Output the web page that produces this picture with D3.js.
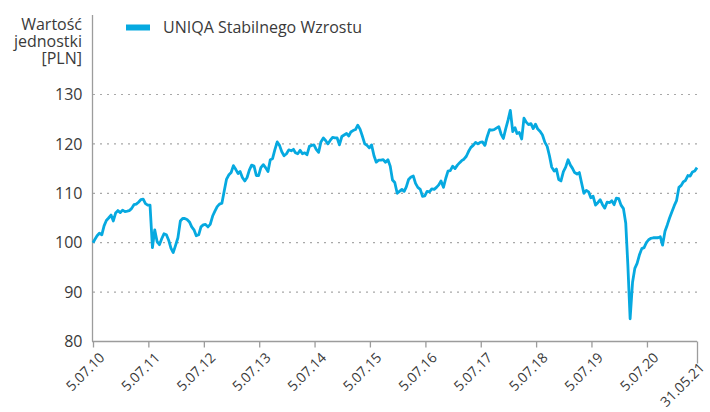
<!DOCTYPE html>
<html>
<head>
<meta charset="utf-8">
<script src="https://cdn.jsdelivr.net/npm/d3@7"></script>
<style>
  body { margin: 0; background: #fff; }
  text { font-family: "Open Sans", sans-serif; fill: #3a3a3a; }
</style>
</head>
<body>
<svg id="chart" width="710" height="412"></svg>
<script>
var seriesName = "UNIQA Stabilnego Wzrostu";
var axisTitle = ["Wartość", "jednostki", "[PLN]"];
var yTicks = [80, 90, 100, 110, 120, 130];
var xTickDates = ["2010-07-05", "2011-07-05", "2012-07-05", "2013-07-05", "2014-07-05", "2015-07-05",
                  "2016-07-05", "2017-07-05", "2018-07-05", "2019-07-05", "2020-07-05", "2021-05-31"];
var xTickLabels = ["5.07.10", "5.07.11", "5.07.12", "5.07.13", "5.07.14", "5.07.15",
                   "5.07.16", "5.07.17", "5.07.18", "5.07.19", "5.07.20", "31.05.21"];

// unit value, sampled on the 1st and 16th of every month
var v2010 = [100.0, 100.6, 101.4, 101.9, 101.6, 103.4, 104.5, 105.0, 105.6, 104.4, 106.0, 106.5];
var v2011 = [106.1, 106.6, 106.3, 106.4, 106.5, 106.9, 107.7, 107.8, 108.2, 108.7, 108.8, 107.9,
             107.6, 107.6, 99.0, 102.6, 100.2, 99.6, 100.8, 101.8, 101.6, 100.5, 98.9, 98.0];
var v2012 = [99.5, 101.0, 104.4, 104.9, 104.9, 104.7, 104.2, 103.2, 102.6, 101.4, 101.6, 103.2,
             103.6, 103.7, 103.2, 103.7, 105.4, 106.4, 107.3, 107.8, 108.0, 110.4, 112.8, 113.7];
var v2013 = [114.2, 115.6, 114.8, 114.0, 114.4, 113.2, 112.5, 113.2, 114.7, 115.7, 115.5, 113.6,
             113.6, 115.2, 115.8, 115.2, 114.4, 116.8, 117.0, 118.8, 120.4, 119.7, 118.4, 117.6];
var v2014 = [118.0, 118.8, 118.6, 118.9, 118.2, 118.0, 118.7, 118.0, 118.2, 117.8, 119.5, 119.7,
             119.8, 118.9, 118.3, 120.4, 121.2, 120.7, 120.0, 120.7, 121.3, 121.2, 121.2, 119.8];
var v2015 = [121.5, 121.8, 122.1, 121.6, 122.4, 122.7, 122.9, 123.8, 123.0, 121.6, 120.0, 119.7,
             119.2, 119.8, 117.6, 116.3, 116.7, 116.7, 116.8, 116.3, 116.8, 115.5, 112.7, 112.2];
var v2016 = [110.0, 110.4, 110.8, 110.4, 111.3, 112.8, 113.3, 113.5, 112.0, 111.2, 110.8, 109.4,
             109.5, 110.4, 110.3, 110.9, 110.8, 111.2, 111.7, 112.5, 111.2, 113.0, 114.5, 114.6];
var v2017 = [115.5, 115.0, 115.7, 116.2, 116.6, 116.9, 117.5, 118.5, 119.3, 119.7, 120.3, 120.0,
             120.3, 120.4, 119.7, 121.4, 122.9, 122.8, 122.9, 123.2, 123.5, 122.0, 121.1, 123.0];
var v2018 = [124.8, 126.8, 122.5, 123.3, 122.1, 122.3, 121.0, 125.2, 124.4, 123.9, 124.1, 123.1,
             124.0, 123.0, 122.5, 121.8, 120.3, 119.5, 117.6, 115.3, 114.5, 114.9, 112.8, 112.5];
var v2019 = [114.4, 115.3, 116.8, 115.7, 115.1, 114.2, 113.9, 114.2, 112.1, 110.0, 110.6, 110.3,
             109.1, 109.4, 107.6, 108.1, 108.7, 107.7, 107.0, 108.2, 108.1, 108.5, 107.7, 109.0];
var v2020 = [108.9, 107.6, 106.9, 104.0, 95.5, 84.6, 92.0, 94.8, 95.8, 97.5, 98.8, 99.0,
             100.0, 100.6, 100.9, 101.0, 101.0, 101.0, 101.2, 99.5, 102.3, 103.6, 105.0, 106.2];
var v2021 = [107.5, 108.5, 111.2, 111.6, 112.3, 112.6, 113.6, 113.5, 114.3, 114.5, 115.2];

var years = [
  { year: 2010, firstMonth: 6, values: v2010 },
  { year: 2011, firstMonth: 0, values: v2011 },
  { year: 2012, firstMonth: 0, values: v2012 },
  { year: 2013, firstMonth: 0, values: v2013 },
  { year: 2014, firstMonth: 0, values: v2014 },
  { year: 2015, firstMonth: 0, values: v2015 },
  { year: 2016, firstMonth: 0, values: v2016 },
  { year: 2017, firstMonth: 0, values: v2017 },
  { year: 2018, firstMonth: 0, values: v2018 },
  { year: 2019, firstMonth: 0, values: v2019 },
  { year: 2020, firstMonth: 0, values: v2020 },
  { year: 2021, firstMonth: 0, values: v2021 }
];

var parse = d3.timeParse("%Y-%m-%d");
var startDate = parse(xTickDates[0]);
var endDate = parse(xTickDates[xTickDates.length - 1]);

var data = [];
years.forEach(function (yr) {
  yr.values.forEach(function (v, i) {
    var d = new Date(yr.year, yr.firstMonth + Math.floor(i / 2), i % 2 ? 16 : 1);
    if (d < startDate) d = startDate;
    if (d > endDate) d = endDate;
    data.push({ date: d, value: v });
  });
});

var svg = d3.select("#chart");
var plotLeft = 93, plotRight = 697, plotTop = 94.5, plotBottom = 341.5;

var x = d3.scaleTime().domain([startDate, endDate]).range([plotLeft, plotRight]);
var y = d3.scaleLinear().domain([80, 130]).range([plotBottom, plotTop]);

// dotted gridlines
svg.append("g")
  .selectAll("line")
  .data(yTicks.slice(1))
  .enter()
  .append("line")
  .attr("x1", plotLeft)
  .attr("x2", plotRight)
  .attr("y1", function (d) { return y(d); })
  .attr("y2", function (d) { return y(d); })
  .attr("stroke", "#a8a8a8")
  .attr("stroke-width", 1.2)
  .attr("stroke-dasharray", "2,5");

// y tick labels
svg.append("g")
  .selectAll("text")
  .data(yTicks)
  .enter()
  .append("text")
  .attr("x", 82.5)
  .attr("y", function (d) { return y(d); })
  .attr("dy", "0.35em")
  .style("text-anchor", "end")
  .style("font-size", "16px")
  .text(function (d) { return d; });

// axis title
svg.append("text")
  .style("text-anchor", "end")
  .style("font-size", "16px")
  .selectAll("tspan")
  .data(axisTitle)
  .enter()
  .append("tspan")
  .attr("x", 82)
  .attr("y", function (d, i) { return 29.5 + i * 17; })
  .text(function (d) { return d; });

// left axis line (runs up to the title)
svg.append("line")
  .attr("x1", plotLeft - 0.5).attr("x2", plotLeft - 0.5)
  .attr("y1", 15).attr("y2", plotBottom)
  .attr("stroke", "#9c9c9c")
  .attr("stroke-width", 1.3);

// bottom axis
var xAxis = d3.axisBottom(x)
  .tickValues(xTickDates.map(parse))
  .tickSize(6)
  .tickFormat(function (d, i) { return xTickLabels[i]; });

var gx = svg.append("g")
  .attr("transform", "translate(0," + plotBottom + ")")
  .call(xAxis);

gx.select(".domain").attr("stroke", "#9c9c9c").attr("stroke-width", 1.3)
  .attr("d", "M" + (plotLeft - 1) + ",0H" + plotRight);
gx.selectAll(".tick line").attr("stroke", "#9c9c9c").attr("stroke-width", 1.3)
  .attr("y2", function (d, i) { return i === xTickDates.length - 1 ? 22 : 6; });
gx.selectAll(".tick text")
  .attr("y", 0)
  .attr("dy", 0)
  .style("font-family", "\"Open Sans\", sans-serif")
  .style("font-size", "14px")
  .style("fill", "#3a3a3a")
  .style("text-anchor", "end")
  .attr("transform", function (d, i) {
    return i === xTickDates.length - 1 ? "translate(8,27) rotate(-45)" : "translate(12,17) rotate(-45)";
  });

// series line
var line = d3.line()
  .x(function (d) { return x(d.date); })
  .y(function (d) { return y(d.value); });

svg.append("path")
  .datum(data)
  .attr("d", line)
  .attr("fill", "none")
  .attr("stroke", "#06a9e0")
  .attr("stroke-width", 2.8)
  .attr("stroke-linejoin", "round");

// legend
svg.append("rect")
  .attr("x", 126).attr("y", 24.5)
  .attr("width", 24).attr("height", 6)
  .attr("fill", "#06a9e0");

svg.append("text")
  .attr("x", 163).attr("y", 33)
  .style("font-size", "16px")
  .text(seriesName);
</script>
</body>
</html>
